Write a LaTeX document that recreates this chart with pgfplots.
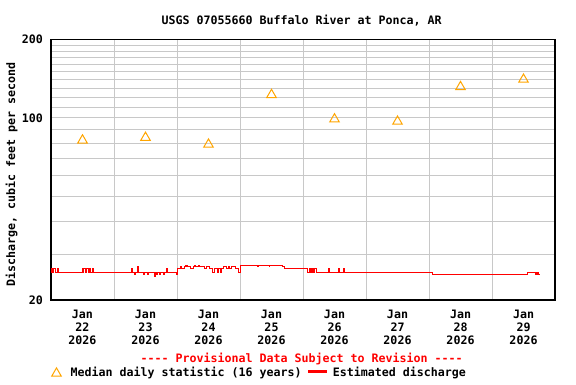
\documentclass[border=0pt]{standalone}
\usepackage{fontspec}
\setmainfont{DejaVu Sans Mono}[Ligatures=TeXOff]
\usepackage{pgfplots}
\pgfplotsset{compat=1.18}
\definecolor{gridgray}{RGB}{200,200,200}
\definecolor{uorange}{RGB}{255,165,0}
\definecolor{ured}{RGB}{255,0,0}
\pgfplotsset{
  trilegend/.style={legend image code/.code={\draw[##1] plot coordinates {(0pt,0.5pt)}; \path (-5.3pt,0pt) (14pt,0pt);}},
  linelegend/.style={legend image code/.code={\fill[red] (0pt,0.4pt) rectangle (18pt,1.6pt); \path (-6.5pt,0pt) (23.5pt,0pt);}},
}
\begin{document}
\begin{tikzpicture}[font=\fontsize{11.63pt}{13pt}\selectfont\bfseries]
\useasboundingbox (0,0) rectangle (576pt,384pt);
\node[anchor=base, inner sep=0pt] at (301.7pt,359.7pt) {USGS 07055660 Buffalo River at Ponca, AR};
\node[rotate=90, inner sep=0pt] at (11.7pt,209.7pt) {Discharge, cubic feet per second};
\node[anchor=base, inner sep=0pt, text=ured] at (301.7pt,21.3pt) {---- Provisional Data Subject to Revision ----};
\begin{axis}[
  at={(51pt,84pt)}, anchor=south west,
  scale only axis, width=504pt, height=260.7pt,
  xmin=0, xmax=192, ymode=log, ymin=20, ymax=200,
  xtick={12,36,60,84,108,132,156,180},
  xticklabels={{Jan\\22\\2026},{Jan\\23\\2026},{Jan\\24\\2026},{Jan\\25\\2026},{Jan\\26\\2026},{Jan\\27\\2026},{Jan\\28\\2026},{Jan\\29\\2026}},
  minor xtick={24,48,72,96,120,144,168},
  ytick={20,100,200}, yticklabels={20,100,200},
  minor ytick={30,40,50,60,70,80,90,110,120,130,140,150,160,170,180,190},
  xmajorgrids=false, xminorgrids=true, ymajorgrids=true, yminorgrids=true,
  grid style={draw=gridgray, line width=0.9pt},
  minor grid style={draw=gridgray, line width=0.9pt},
  major tick length=0pt, minor tick length=0pt,
  tick style={draw=none},
  axis line style={line width=1.2pt},
  xticklabel style={align=center, inner sep=0pt, yshift=-9.5pt, font=\fontsize{11.63pt}{13pt}\selectfont\bfseries},
  yticklabel style={inner sep=0pt, xshift=-8pt, font=\fontsize{11.63pt}{13pt}\selectfont\bfseries},
  legend columns=2,
  legend style={at={(axis description cs:0,-0.278)}, anchor=west, draw=none, fill=none,
    inner sep=0pt, outer sep=0pt,
    nodes={inner sep=0pt, font=\fontsize{11.63pt}{13pt}\selectfont\bfseries}},
]
\addplot[only marks, mark=triangle, mark size=5.5pt, color=uorange,
  mark options={line width=1pt, yshift=-1.4pt}, trilegend]
  coordinates {(12,83) (36,85) (60,80) (84,124) (108,100) (132,98) (156,133) (180,142)};
\addlegendentry{Median daily statistic (16 years)}
\addplot[const plot, color=ured, line width=1pt, mark=none, linelegend]
  coordinates {
  (0,25.6) (0.38,26.3) (0.76,25.6) (1.14,26.3) (1.90,25.6) (2.29,26.3) (2.67,25.6)
  (11.81,26.3) (12.19,25.6) (12.57,26.3) (13.33,25.6) (13.71,26.3) (14.10,25.6) (14.48,26.3) (14.86,25.6) (15.62,26.3) (16.38,25.6)
  (30.48,26.3) (30.86,25.6) (31.62,25.1) (32.0,25.6) (33.14,26.8) (33.52,25.6) (35.05,25.1) (35.43,25.6) (36.95,25.1) (37.33,25.6)
  (39.24,24.6) (39.62,25.6) (40.38,25.1) (40.76,25.6) (41.52,25.1) (41.90,25.6) (42.67,25.1) (43.05,25.6) (44.19,26.3) (44.57,25.6)
  (47.62,25.1) (48.0,25.6) (48.38,26.3) (49.52,26.8) (49.9,26.3) (50.67,26.8) (51.05,27.2) (51.43,26.8) (51.81,27.2) (52.19,26.8)
  (53.33,26.3) (54.10,26.8) (54.48,27.2) (54.86,26.8) (56.38,27.2) (56.76,26.8) (58.29,26.3) (59.05,26.8) (60.57,26.3) (61.71,25.6)
  (62.1,26.3) (63.24,25.6) (63.62,26.3) (64.76,25.6) (65.14,26.3) (65.9,26.8) (66.67,26.3) (67.43,26.8) (68.19,26.3) (68.95,26.8)
  (70.1,26.3) (71.24,25.6) (72.19,27.2)
  (78.48,26.8) (78.86,27.2) (83.05,26.8) (83.3,27.2)
  (88.38,26.8) (88.95,26.3)
  (97.9,25.6) (98.29,26.3) (98.67,25.6) (99.05,26.3) (99.43,25.6) (99.81,26.3) (100.19,25.6) (100.57,26.3) (101.33,25.6)
  (105.9,26.3) (106.2,25.6) (109.7,26.3) (110.0,25.6) (111.6,26.3) (111.9,25.6)
  (145.52,25.1) (181.71,25.6) (184.38,25.1) (184.76,25.6) (185.14,25.1) (185.52,25.6) (185.9,25.1) (186.3,25.1)
  };
\addlegendentry{Estimated discharge}
\end{axis}
\end{tikzpicture}
\end{document}
